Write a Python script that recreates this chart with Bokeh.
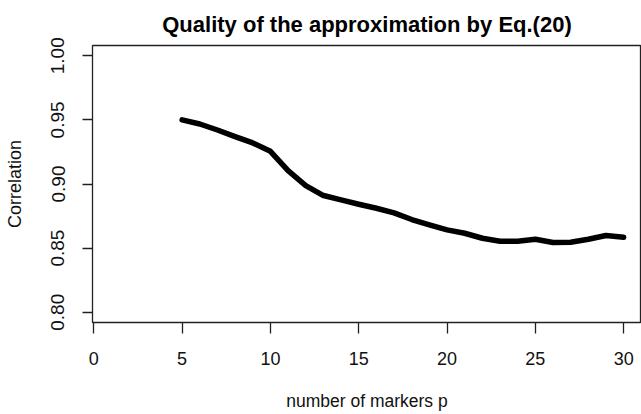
from bokeh.plotting import figure
from bokeh.models import FixedTicker, Range1d
from bokeh.embed import file_html
from bokeh.resources import INLINE

# Data
markers_p = [5, 6, 7, 8, 9, 10, 11, 12, 13, 14, 15, 16, 17, 18,
             19, 20, 21, 22, 23, 24, 25, 26, 27, 28, 29, 30]
correlation = [0.9500, 0.9468, 0.9421, 0.9369, 0.9320, 0.9255, 0.9104,
               0.8988, 0.8910, 0.8876, 0.8842, 0.8811, 0.8775, 0.8723,
               0.8681, 0.8642, 0.8616, 0.8577, 0.8554, 0.8554, 0.8569,
               0.8544, 0.8546, 0.8569, 0.8598, 0.8585]
x_ticks = [0, 5, 10, 15, 20, 25, 30]
y_ticks = [0.80, 0.85, 0.90, 0.95, 1.00]
y_tick_labels = ["0.80", "0.85", "0.90", "0.95", "1.00"]

FONT = "Liberation Sans"

p = figure(width=641, height=414, output_backend="svg", toolbar_location=None,
           x_range=Range1d(-0.074, 31.01), y_range=Range1d(0.792, 1.008),
           min_border_left=92, min_border_right=0, min_border_top=45,
           min_border_bottom=92,
           title="Quality of the approximation by Eq.(20)")

p.title.text_font = FONT
p.title.text_font_size = "22px"
p.title.text_font_style = "bold"
p.title.align = "center"
p.title.text_color = "black"
p.title.vertical_align = "bottom"
p.title.standoff = 18

p.grid.visible = False
p.background_fill_color = "white"
p.border_fill_color = "white"
p.outline_line_color = "#222222"
p.outline_line_width = 1.3

p.line(markers_p, correlation, line_width=5.5, line_color="black",
       line_cap="round", line_join="round")

# x axis
xa = p.xaxis[0]
xa.ticker = FixedTicker(ticks=x_ticks)
xa.axis_line_color = None
xa.major_tick_in = 0
xa.major_tick_out = 11
xa.major_tick_line_color = "#222222"
xa.major_tick_line_width = 1.3
xa.minor_tick_line_color = None
xa.major_label_text_font = FONT
xa.major_label_text_font_size = "18px"
xa.major_label_text_color = "#111111"
xa.major_label_standoff = 18
xa.axis_label = "number of markers p"
xa.axis_label_text_font = FONT
xa.axis_label_text_font_size = "17.5px"
xa.axis_label_text_font_style = "normal"
xa.axis_label_text_color = "#111111"
xa.axis_label_standoff = 23

# y axis
ya = p.yaxis[0]
ya.ticker = FixedTicker(ticks=y_ticks)
ya.major_label_overrides = {t: s for t, s in zip(y_ticks, y_tick_labels)}
ya.axis_line_color = None
ya.major_tick_in = 0
ya.major_tick_out = 10
ya.major_tick_line_color = "#222222"
ya.major_tick_line_width = 1.3
ya.minor_tick_line_color = None
ya.major_label_orientation = "parallel"
ya.major_label_text_font = FONT
ya.major_label_text_font_size = "19px"
ya.major_label_text_color = "#111111"
ya.major_label_standoff = 18
ya.axis_label = "Correlation"
ya.axis_label_text_font = FONT
ya.axis_label_text_font_size = "18px"
ya.axis_label_text_font_style = "normal"
ya.axis_label_text_color = "#111111"
ya.axis_label_standoff = 24

open("out.html", "w").write(file_html(p, INLINE))
